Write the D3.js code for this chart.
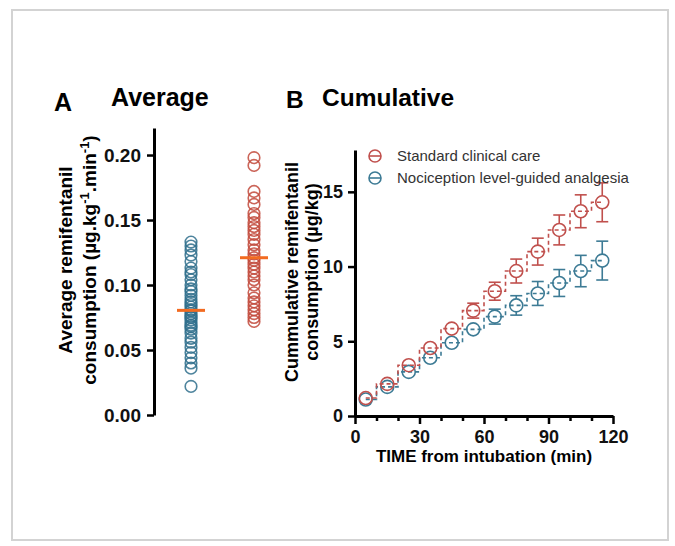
<!DOCTYPE html>
<html>
<head>
<meta charset="utf-8">
<script src="https://cdn.jsdelivr.net/npm/d3@7"></script>
<style>
  body { margin: 0; background: #fff; }
  text { font-family: "Liberation Sans", Arial, sans-serif; }
</style>
</head>
<body>
<div id="chart"></div>
<script>
// panel A: individual averages (µg/kg/min)
var groupNames = ['Standard clinical care', 'Nociception level-guided analgesia'];
var avgNociception = [0.133, 0.130, 0.127, 0.123, 0.118, 0.113, 0.110, 0.108, 0.104, 0.100,
  0.097, 0.095, 0.092, 0.089, 0.087, 0.085, 0.083, 0.081, 0.080, 0.078, 0.076, 0.075,
  0.073, 0.071, 0.069, 0.068, 0.066, 0.063, 0.059, 0.056, 0.052, 0.048, 0.044, 0.040,
  0.036, 0.022];
var avgStandard = [0.198, 0.192, 0.172, 0.167, 0.162, 0.155, 0.152, 0.148, 0.145, 0.142,
  0.139, 0.135, 0.131, 0.127, 0.124, 0.121, 0.119, 0.116, 0.113, 0.110, 0.107, 0.104,
  0.100, 0.094, 0.090, 0.087, 0.084, 0.081, 0.078, 0.075, 0.072];
var avgTicks = [0, 0.05, 0.10, 0.15, 0.20];

// panel B: cumulative consumption (µg/kg), mean and error
var timePoints = [5, 15, 25, 35, 45, 55, 65, 75, 85, 95, 105, 115];
var cumStandard = [1.2, 2.15, 3.4, 4.55, 5.85, 7.05, 8.35, 9.7, 11.0, 12.45, 13.7, 14.3];
var errStandard = [0.1, 0.15, 0.2, 0.3, 0.35, 0.5, 0.6, 0.8, 0.9, 1.0, 1.1, 1.3];
var cumNociception = [1.1, 1.95, 2.95, 3.9, 4.9, 5.8, 6.65, 7.4, 8.2, 8.9, 9.7, 10.4];
var errNociception = [0.1, 0.15, 0.2, 0.25, 0.3, 0.4, 0.5, 0.65, 0.8, 0.9, 1.05, 1.3];
var cumTicks = [0, 5, 10, 15];
var timeTicks = [0, 30, 60, 90, 120];

var red = '#c24a3c', blue = '#2f6f8c';
var redB = '#c0504d', blueB = '#3d7b95';
var FONT = '"Liberation Sans", Arial, sans-serif';

var svg = d3.select('#chart').append('svg')
  .attr('width', 675).attr('height', 546);

svg.append('rect')
  .attr('x', 12).attr('y', 10).attr('width', 656).attr('height', 530)
  .attr('fill', 'none').attr('stroke', '#d3d3d3').attr('stroke-width', 2);

// ---------- panel A ----------
var yA = d3.scaleLinear().domain([0, 0.2208]).range([415, 128]);
var xA = d3.scalePoint().domain(['noci', 'std']).range([191, 254]);

svg.append('text').attr('x', 54).attr('y', 111)
  .attr('font-size', 25).attr('font-weight', 'bold').text('A');
svg.append('text').attr('x', 111).attr('y', 106)
  .attr('font-size', 25).attr('font-weight', 'bold').text('Average');

var axA = svg.append('g').attr('transform', 'translate(154,0)')
  .call(d3.axisLeft(yA).tickValues(avgTicks).tickFormat(d3.format('.2f')).tickSize(7).tickSizeOuter(0));
axA.select('.domain').attr('stroke-width', 3);
axA.selectAll('.tick line').attr('stroke-width', 2.5);
axA.selectAll('.tick text').attr('font-size', 19).attr('font-weight', 'bold')
  .attr('font-family', FONT).attr('x', -13).attr('fill', '#111');

var titleA = svg.append('text').attr('transform', 'translate(0,260) rotate(-90)')
  .attr('text-anchor', 'middle').attr('font-size', 19).attr('font-weight', 'bold');
titleA.append('tspan').attr('x', 0).attr('y', 72).text('Average remifentanil');
var t2 = titleA.append('tspan').attr('x', 0).attr('y', 96).text('consumption (µg.kg');
t2.append('tspan').attr('dy', -7).attr('font-size', 13).text('-1');
t2.append('tspan').attr('dy', 7).text('.min');
t2.append('tspan').attr('dy', -7).attr('font-size', 13).text('-1');
t2.append('tspan').attr('dy', 7).text(')');

function dots(vals, key, color) {
  svg.append('g').selectAll('circle').data(vals).enter().append('circle')
    .attr('cx', xA(key)).attr('cy', function (d) { return yA(d); })
    .attr('r', 5.8).attr('fill', 'none').attr('stroke', color).attr('stroke-width', 1.6)
    .attr('stroke-opacity', 0.85);
  var med = d3.median(vals);
  svg.append('line')
    .attr('x1', xA(key) - 14).attr('x2', xA(key) + 14)
    .attr('y1', yA(med)).attr('y2', yA(med))
    .attr('stroke', '#f26b21').attr('stroke-width', 3);
}
dots(avgNociception, 'noci', blue);
dots(avgStandard, 'std', red);

// ---------- panel B ----------
var xB = d3.scaleLinear().domain([0, 120]).range([355, 613]);
var yB = d3.scaleLinear().domain([0, 17.8]).range([416, 150]);

svg.append('text').attr('x', 286).attr('y', 108)
  .attr('font-size', 24.5).attr('font-weight', 'bold').text('B');
svg.append('text').attr('x', 322).attr('y', 106)
  .attr('font-size', 24.5).attr('font-weight', 'bold').text('Cumulative');

var axBy = svg.append('g').attr('transform', 'translate(355,0)')
  .call(d3.axisLeft(yB).tickValues(cumTicks).tickSize(7).tickSizeOuter(0));
var axBx = svg.append('g').attr('transform', 'translate(0,416)')
  .call(d3.axisBottom(xB).tickValues(timeTicks).tickSize(8).tickSizeOuter(0));
svg.append('g').attr('transform', 'translate(0,416)')
  .call(d3.axisBottom(xB).tickValues(d3.range(10, 120, 10).filter(function (d) { return d % 30; }))
    .tickSize(5).tickSizeOuter(0).tickFormat(''))
  .call(function (g) { g.select('.domain').remove(); g.selectAll('.tick line').attr('stroke-width', 2.5); });
[axBy, axBx].forEach(function (a) {
  a.select('.domain').attr('stroke-width', 3);
  a.selectAll('.tick line').attr('stroke-width', 2.5);
  a.selectAll('.tick text').attr('font-size', 18).attr('font-weight', 'bold')
    .attr('font-family', FONT).attr('fill', '#111');
});
axBy.selectAll('.tick text').attr('x', -12);
axBx.selectAll('.tick text').attr('y', 14);

svg.append('text').attr('x', 484).attr('y', 462).attr('text-anchor', 'middle')
  .attr('font-size', 17).attr('font-weight', 'bold').text('TIME from intubation (min)');

var titleB = svg.append('text').attr('transform', 'translate(0,272) rotate(-90)')
  .attr('text-anchor', 'middle').attr('font-size', 18).attr('font-weight', 'bold');
titleB.append('tspan').attr('x', 0).attr('y', 298).text('Cummulative remifentanil');
titleB.append('tspan').attr('x', 0).attr('y', 318).text('consumption (µg/kg)');

var R = 6.5;
function series(vals, errs, color) {
  var pts = timePoints.map(function (t, i) { return { t: t, v: vals[i], e: errs[i] }; });
  var line = d3.line().x(function (d) { return xB(d.t); }).y(function (d) { return yB(d.v); })
    .curve(d3.curveStep);
  svg.append('path').datum(pts).attr('d', line)
    .attr('fill', 'none').attr('stroke', color).attr('stroke-width', 1.6)
    .attr('stroke-dasharray', '4,3');
  var g = svg.append('g').attr('stroke', color).attr('stroke-width', 1.6).attr('fill', 'none');
  pts.forEach(function (d) {
    var cx = xB(d.t), cy = yB(d.v);
    var top = yB(d.v + d.e), bot = yB(d.v - d.e);
    if (cy - top > R) {
      g.append('line').attr('x1', cx).attr('x2', cx).attr('y1', cy - R).attr('y2', top);
      g.append('line').attr('x1', cx).attr('x2', cx).attr('y1', cy + R).attr('y2', bot);
      g.append('line').attr('x1', cx - 6).attr('x2', cx + 6).attr('y1', top).attr('y2', top);
      g.append('line').attr('x1', cx - 6).attr('x2', cx + 6).attr('y1', bot).attr('y2', bot);
    }
    g.append('circle').attr('cx', cx).attr('cy', cy).attr('r', R);
  });
}
series(cumNociception, errNociception, blueB);
series(cumStandard, errStandard, redB);

// legend
var legColors = [redB, blueB];
var leg = svg.append('g').selectAll('g').data(groupNames).enter().append('g')
  .attr('transform', function (d, i) { return 'translate(375,' + (156 + i * 22) + ')'; });
leg.append('circle').attr('r', 6).attr('fill', 'none')
  .attr('stroke', function (d, i) { return legColors[i]; }).attr('stroke-width', 1.6);
leg.append('line').attr('x1', -6).attr('x2', 6)
  .attr('stroke', function (d, i) { return legColors[i]; }).attr('stroke-width', 1.6);
leg.append('text').attr('x', 22).attr('y', 5).attr('font-size', 15).attr('fill', '#333')
  .text(function (d) { return d; });
</script>
</body>
</html>
